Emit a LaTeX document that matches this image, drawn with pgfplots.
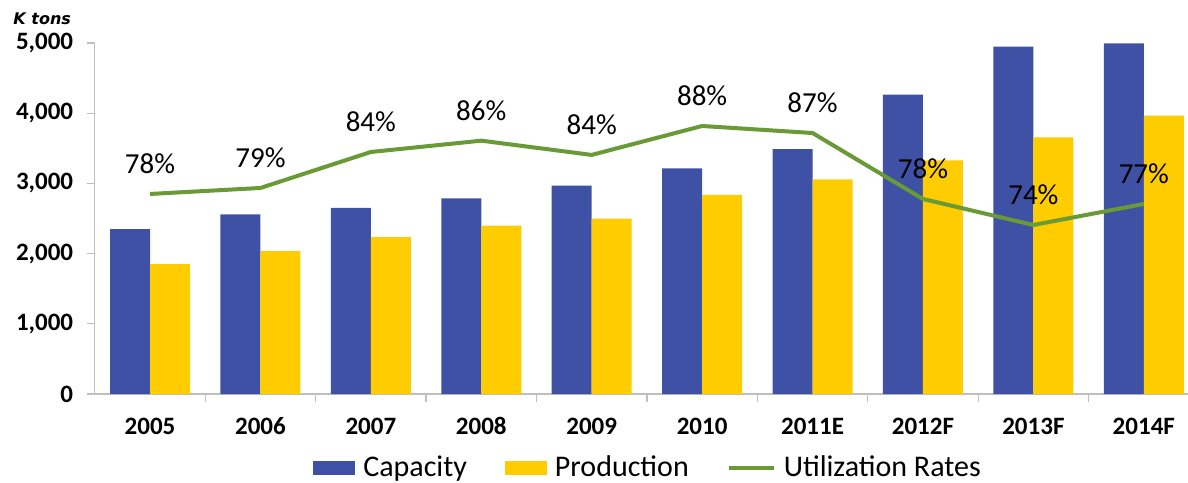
\documentclass[border=0pt]{standalone}
\usepackage{fontspec}
\setmainfont{Carlito}
\newfontfamily\ktonsfont{DejaVu Sans}
\usepackage{pgfplots}
\usepackage{pgfplotstable}
\pgfplotsset{compat=1.18}
\definecolor{capblue}{HTML}{3F51A5}
\definecolor{prodyellow}{HTML}{FFCC00}
\definecolor{utilgreen}{HTML}{6A9A35}
\definecolor{axisgray}{HTML}{BFBFBF}
\pgfplotsset{
  barleg/.style={legend image code/.code={\fill[##1] (0pt,-3.6pt) rectangle (21pt,3.6pt);}},
  lineleg/.style={legend image code/.code={\draw[##1] (0pt,0pt) -- (22.5pt,0pt);}},
}

\pgfplotstableread{
x cap prod util
0 2350 1850 78.25
1 2560 2035 79.07
2 2650 2235 84.0
3 2788 2398 85.55
4 2968 2497 83.6
5 3215 2835 87.56
6 3490 3058 86.6
7 4264 3328 77.56
8 4948 3656 74.0
9 4995 3964 76.88
}\datatable

\begin{document}
\begin{tikzpicture}
\path[use as bounding box] (-47.4pt,-44pt) rectangle (546.6pt,197pt);
\begin{axis}[
  at={(0,0)}, anchor=south west,
  width=546.6pt, height=175.5pt, scale only axis,
  xmin=-0.5, xmax=9.40, ymin=0, ymax=5000,
  enlarge x limits=false, enlarge y limits=false,
  ybar=0pt, bar width=20pt,
  axis x line*=bottom, axis y line*=left,
  axis line style={axisgray, -, line width=0.6pt},
  tick align=outside, major tick length=4pt,
  tick style={axisgray, line width=0.6pt},
  xtick={0.5,1.5,2.5,3.5,4.5,5.5,6.5,7.5,8.5}, xticklabels={},
  extra x ticks={0,1,2,3,4,5,6,7,8,9},
  extra x tick labels={2005,2006,2007,2008,2009,2010,2011E,2012F,2013F,2014F},
  extra x tick style={major tick length=0pt},
  xticklabel style={yshift=-8.3pt},
  ytick={0,1000,2000,3000,4000,5000},
  scaled y ticks=false,
  /pgf/number format/1000 sep={,},
  /pgf/number format/assume math mode=true,
  yticklabel style={xshift=-3.3pt},
  tick label style={font=\bfseries\fontsize{12.5}{15}\selectfont, text=black},
  legend style={draw=none, fill=none, legend columns=3,
    font=\fontsize{15}{17}\selectfont,
    nodes={inner ysep=0.5pt},
    at={(0.507,-0.2108)}, anchor=center,
    /tikz/every odd column/.append style={column sep=2pt},
    /tikz/every even column/.append style={column sep=17pt}},
]
\addplot[fill=capblue, draw=none, barleg] table[x=x, y=cap]{\datatable};
\addplot[fill=prodyellow, draw=none, barleg] table[x=x, y=prod]{\datatable};
\addlegendimage{utilgreen, line width=2pt, lineleg}
\legend{Capacity, Production, Utilization Rates}
\end{axis}
\begin{axis}[
  at={(0,0)}, anchor=south west,
  width=546.6pt, height=175.5pt, scale only axis,
  xmin=-0.5, xmax=9.40, ymin=50.85, ymax=98.93,
  hide x axis, hide y axis, clip=false,
  nodes near coords={\pgfmathprintnumber[fixed,precision=0,assume math mode=true]{\pgfplotspointmeta}\%},
  every node near coord/.append style={anchor=center, yshift=15pt,
    font=\fontsize{14.5}{17}\selectfont, text=black},
]
\addplot[utilgreen, line width=2pt, mark=none] table[x=x, y=util]{\datatable};
\end{axis}
\node[anchor=base west, inner sep=0pt, font=\ktonsfont\bfseries\itshape\fontsize{8}{10}\selectfont] at (-40.9pt,184.5pt) {K tons};
\end{tikzpicture}
\end{document}
